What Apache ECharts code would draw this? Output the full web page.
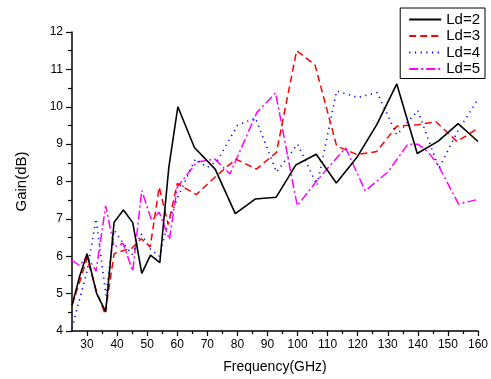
<!DOCTYPE html>
<html>
<head>
<meta charset="utf-8">
<script src="https://cdn.jsdelivr.net/npm/echarts@6/dist/echarts.min.js"></script>
<style>
html,body{margin:0;padding:0;background:#fff;}
#c{width:491px;height:379px;}
</style>
</head>
<body>
<div id="c"></div>
<script>
// ---- data ----
const seriesNames = ['Ld=2', 'Ld=3', 'Ld=4', 'Ld=5'];

const freqLd2 = [25, 27.5, 30, 33.2, 36.2, 39, 42.1, 45.2, 48.2, 51.1, 54.2, 57.2, 60.2, 65.7, 72.6, 79.3, 85.9, 92.9, 99.4, 106.2, 112.9, 119.7, 126.4, 133, 139.8, 146.8, 153.4, 160];
const gainLd2 = [4.68, 5.45, 6.07, 5.0, 4.52, 6.91, 7.24, 6.9, 5.54, 6.03, 5.83, 8.38, 10.0, 8.91, 8.33, 7.14, 7.53, 7.58, 8.44, 8.73, 7.96, 8.64, 9.53, 10.61, 8.75, 9.08, 9.55, 9.07];

const freqLd3 = [25, 27.5, 30, 33, 36, 39, 42, 45, 48, 51, 54, 57, 60, 66.3, 73, 79.5, 86.3, 93, 99.7, 105.8, 113, 119.8, 126.3, 133, 140, 146, 153, 160];
const gainLd3 = [4.7, 5.3, 5.95, 5.1, 4.45, 6.07, 6.15, 6.22, 6.47, 6.25, 7.85, 6.85, 7.95, 7.65, 8.15, 8.6, 8.33, 8.78, 11.5, 11.12, 8.95, 8.72, 8.8, 9.48, 9.52, 9.6, 9.07, 9.42];

const freqLd4 = [25, 30, 33, 36.3, 39, 42, 45, 48, 51, 54, 57, 60, 66, 70, 73.3, 80, 86, 93, 100, 106.5, 113, 120, 126.5, 133, 140, 147, 153.3, 160];
const gainLd4 = [4.08, 5.6, 7.0, 4.95, 6.7, 6.35, 6.05, 6.6, 6.2, 6.0, 6.9, 7.55, 8.6, 8.38, 8.55, 9.5, 9.7, 8.25, 9.0, 7.9, 10.42, 10.25, 10.38, 9.25, 9.9, 8.35, 9.35, 10.2];

const freqLd5 = [25, 27.5, 30, 33, 36.2, 39, 42, 45.2, 48.2, 51.5, 54, 57.4, 60, 66.5, 72.5, 77.5, 86.5, 92.7, 99.9, 106.7, 116, 122.5, 130, 136.7, 140, 143.3, 146.7, 153.5, 160];
const gainLd5 = [5.89, 5.75, 6.0, 5.6, 7.35, 6.25, 6.35, 5.6, 7.76, 6.95, 7.18, 6.45, 7.85, 8.52, 8.6, 8.2, 9.85, 10.37, 7.35, 8.05, 8.9, 7.75, 8.25, 9.0, 9.0, 8.8, 8.45, 7.4, 7.52];

const xTicks = [30, 40, 50, 60, 70, 80, 90, 100, 110, 120, 130, 140, 150, 160];
const xMinorTicks = [35, 45, 55, 65, 75, 85, 95, 105, 115, 125, 135, 145, 155];
const yTicks = [4, 5, 6, 7, 8, 9, 10, 11, 12];

const colors = ['#000000', '#ff0000', '#0000ff', '#ff00ff'];
const dashes = ['solid', [7, 4], [1.2, 4.5], [9, 3, 2, 3]];
const widths = [1.6, 1.5, 1.6, 1.5];

function pairs(xs, ys) { return xs.map((x, i) => [x, ys[i]]); }
const allData = [pairs(freqLd2, gainLd2), pairs(freqLd3, gainLd3), pairs(freqLd4, gainLd4), pairs(freqLd5, gainLd5)];

const FONT = 'Liberation Sans';
const chart = echarts.init(document.getElementById('c'), null, {renderer: 'canvas'});
chart.setOption({
  animation: false,
  backgroundColor: '#ffffff',
  textStyle: {fontFamily: FONT},
  grid: {left: 72, right: 11, top: 32, bottom: 46, containLabel: false},
  legend: {
    data: seriesNames,
    orient: 'vertical',
    right: 6, top: 8,
    padding: [4, 5, 2, 8],
    itemWidth: 32, itemHeight: 13, itemGap: 1.5,
    borderColor: '#000', borderWidth: 1,
    backgroundColor: '#fff',
    itemStyle: {opacity: 0},
    textStyle: {fontFamily: FONT, fontSize: 15, color: '#000'}
  },
  xAxis: [{
    type: 'value', min: 25, max: 160,
    name: 'Frequency(GHz)', nameLocation: 'middle', nameGap: 29,
    nameTextStyle: {fontFamily: FONT, fontSize: 14, color: '#000'},
    axisLine: {show: true, onZero: false, lineStyle: {color: '#000', width: 1.5}},
    axisTick: {show: true, customValues: xTicks, length: 5, lineStyle: {color: '#000', width: 1.2}},
    axisLabel: {customValues: xTicks, margin: 8, fontFamily: FONT, fontSize: 12, color: '#000'},
    splitLine: {show: false}
  }, {
    type: 'value', min: 25, max: 160, position: 'bottom', gridIndex: 0,
    axisLine: {show: false},
    axisTick: {show: true, customValues: xMinorTicks, length: 3, lineStyle: {color: '#000', width: 1.2}},
    axisLabel: {show: false},
    splitLine: {show: false}
  }],
  yAxis: {
    type: 'value', min: yTicks[0], max: yTicks[yTicks.length - 1], interval: 1,
    name: 'Gain(dB)', nameLocation: 'middle', nameGap: 43, nameRotate: 90,
    nameTextStyle: {fontFamily: FONT, fontSize: 15, color: '#000'},
    axisLine: {show: true, onZero: false, lineStyle: {color: '#000', width: 1.5}},
    axisTick: {show: true, length: 6, lineStyle: {color: '#000', width: 1.2}},
    minorTick: {show: true, splitNumber: 2, length: 4, lineStyle: {color: '#000', width: 1.2}},
    axisLabel: {margin: 9, fontFamily: FONT, fontSize: 12, color: '#000'},
    splitLine: {show: false}
  },
  series: seriesNames.map((n, i) => ({
    name: n, type: 'line', xAxisIndex: 0, data: allData[i],
    symbol: 'none', showSymbol: false, smooth: false,
    color: colors[i],
    lineStyle: {color: colors[i], width: widths[i], type: dashes[i]},
    z: 10 - i
  }))
});
</script>
</body>
</html>
